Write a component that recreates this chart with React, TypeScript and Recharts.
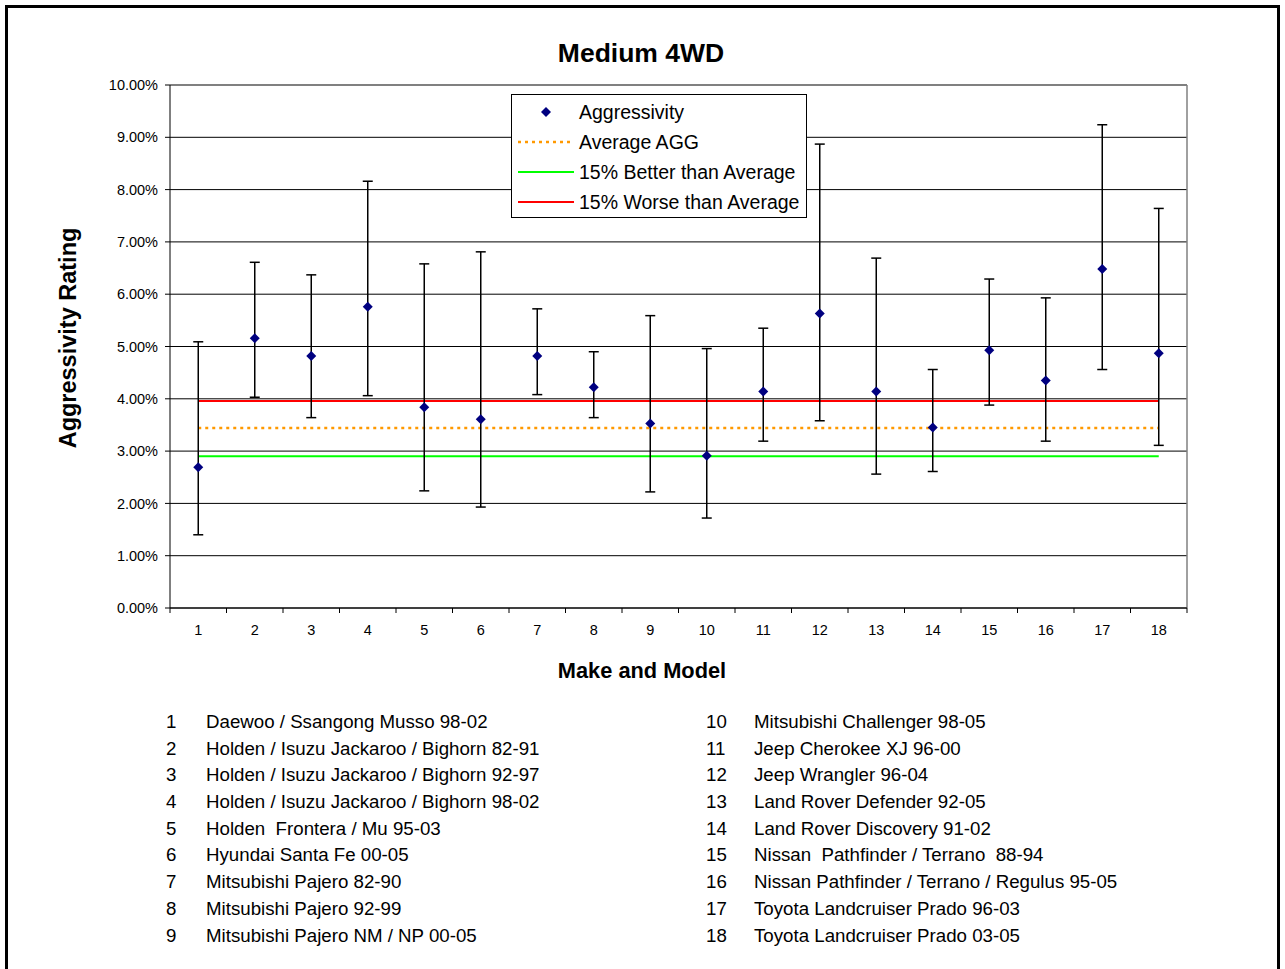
import React from "react";
import {
  ComposedChart,
  Scatter,
  Line,
  XAxis,
  YAxis,
  CartesianGrid,
  ErrorBar,
  ReferenceLine,
} from "recharts";

const modelNumbers = [1, 2, 3, 4, 5, 6, 7, 8, 9, 10, 11, 12, 13, 14, 15, 16, 17, 18];

const modelNames = [
  "Daewoo / Ssangong Musso 98-02",
  "Holden / Isuzu Jackaroo / Bighorn 82-91",
  "Holden / Isuzu Jackaroo / Bighorn 92-97",
  "Holden / Isuzu Jackaroo / Bighorn 98-02",
  "Holden  Frontera / Mu 95-03",
  "Hyundai Santa Fe 00-05",
  "Mitsubishi Pajero 82-90",
  "Mitsubishi Pajero 92-99",
  "Mitsubishi Pajero NM / NP 00-05",
  "Mitsubishi Challenger 98-05",
  "Jeep Cherokee XJ 96-00",
  "Jeep Wrangler 96-04",
  "Land Rover Defender 92-05",
  "Land Rover Discovery 91-02",
  "Nissan  Pathfinder / Terrano  88-94",
  "Nissan Pathfinder / Terrano / Regulus 95-05",
  "Toyota Landcruiser Prado 96-03",
  "Toyota Landcruiser Prado 03-05",
];

// aggressivity in percent, with the lower / upper limits of the error bars
const aggValues = [2.69, 5.16, 4.82, 5.76, 3.84, 3.61, 4.82, 4.22, 3.53, 2.91, 4.14, 5.63, 4.14, 3.45, 4.93, 4.35, 6.48, 4.87];
const upperValues = [5.09, 6.61, 6.37, 8.16, 6.58, 6.81, 5.72, 4.9, 5.59, 4.96, 5.35, 8.87, 6.69, 4.56, 6.29, 5.93, 9.24, 7.64];
const lowerValues = [1.4, 4.03, 3.64, 4.06, 2.24, 1.93, 4.08, 3.64, 2.22, 1.72, 3.19, 3.58, 2.56, 2.61, 3.88, 3.19, 4.56, 3.11];

const averageAgg = 3.44;
const betterThanAvg = 2.9;
const worseThanAvg = 3.96;

const yTicks = [0, 1, 2, 3, 4, 5, 6, 7, 8, 9, 10];

const FONT = '"Liberation Sans", Arial, sans-serif';

const data = modelNumbers.map((n, i) => ({
  x: n,
  agg: aggValues[i],
  err: [aggValues[i] - lowerValues[i], upperValues[i] - aggValues[i]],
  avg: averageAgg,
  better: betterThanAvg,
  worse: worseThanAvg,
}));

// labels sit on the categories, tick marks between them (Excel style)
const xTicks = modelNumbers.flatMap((n) => [n - 0.5, n]).concat(modelNumbers.length + 0.5);

function XTick(props: any) {
  const { x, y, payload } = props;
  const v = payload.value;
  if (Number.isInteger(v)) {
    return (
      <text x={x} y={y + 27} textAnchor="middle" fontSize={14.5} fill="#000" fontFamily={FONT}>
        {v}
      </text>
    );
  }
  return <line x1={x} y1={y} x2={x} y2={y + 5} stroke="#000" />;
}

function Diamond(props: any) {
  const { cx, cy } = props;
  if (cx == null || cy == null) return null;
  const r = 5;
  return (
    <polygon
      points={`${cx},${cy - r} ${cx + r},${cy} ${cx},${cy + r} ${cx - r},${cy}`}
      fill="#000080"
    />
  );
}

function LegendBox() {
  const row: React.CSSProperties = { display: "flex", alignItems: "center", height: 30 };
  const sym: React.CSSProperties = { width: 56, marginLeft: 6, marginRight: 5, display: "flex", justifyContent: "center" };
  return (
    <div
      style={{
        position: "absolute",
        left: 511,
        top: 94,
        width: 294,
        height: 120,
        border: "1px solid #000",
        background: "#fff",
        paddingTop: 2,
        boxSizing: "content-box",
        fontFamily: FONT,
        fontSize: 19.5,
        color: "#000",
      }}
    >
      <div style={row}>
        <div style={sym}>
          <svg width={10} height={10}>
            <polygon points="5,0 10,5 5,10 0,5" fill="#000080" />
          </svg>
        </div>
        <span>Aggressivity</span>
      </div>
      <div style={row}>
        <div style={sym}>
          <svg width={56} height={4}>
            <line x1={0} y1={2} x2={56} y2={2} stroke="#FF9900" strokeWidth={2.5} strokeDasharray="3 4" />
          </svg>
        </div>
        <span>Average AGG</span>
      </div>
      <div style={row}>
        <div style={sym}>
          <svg width={56} height={4}>
            <line x1={0} y1={2} x2={56} y2={2} stroke="#00FF00" strokeWidth={2} />
          </svg>
        </div>
        <span>15% Better than Average</span>
      </div>
      <div style={row}>
        <div style={sym}>
          <svg width={56} height={4}>
            <line x1={0} y1={2} x2={56} y2={2} stroke="#FF0000" strokeWidth={2} />
          </svg>
        </div>
        <span>15% Worse than Average</span>
      </div>
    </div>
  );
}

function ModelList() {
  const half = Math.ceil(modelNames.length / 2);
  const cols = [modelNames.slice(0, half), modelNames.slice(half)];
  const colPos = [
    { num: 166, name: 206 },
    { num: 706, name: 754 },
  ];
  return (
    <>
      {cols.map((names, c) => (
        <div
          key={c}
          style={{
            position: "absolute",
            left: colPos[c].num,
            top: 709,
            fontFamily: FONT,
            fontSize: 18.7,
            lineHeight: "26.7px",
            color: "#000",
            whiteSpace: "pre",
          }}
        >
          {names.map((name, i) => (
            <div key={name} style={{ position: "relative", height: 26.7 }}>
              <span>{modelNumbers[c * half + i]}</span>
              <span style={{ position: "absolute", left: colPos[c].name - colPos[c].num }}>{name}</span>
            </div>
          ))}
        </div>
      ))}
    </>
  );
}

export default function App() {
  return (
    <div
      style={{
        position: "absolute",
        left: 0,
        top: 0,
        width: 1285,
        height: 969,
        overflow: "hidden",
        background: "#fff",
        fontFamily: FONT,
      }}
    >
      <div
        style={{
          position: "absolute",
          left: 5,
          top: 5,
          width: 1269,
          height: 1000,
          border: "3px solid #000",
        }}
      />
      <div style={{ position: "absolute", left: 0, top: 0 }}>
        <ComposedChart
          width={1285}
          height={700}
          data={data}
          margin={{ top: 85, right: 98, left: 100, bottom: 62 }}
        >
          <CartesianGrid horizontal vertical={false} stroke="#000" strokeWidth={1} />
          <XAxis
            dataKey="x"
            type="number"
            domain={[0.5, 18.5]}
            ticks={xTicks}
            interval={0}
            tick={<XTick />}
            tickLine={false}
            tickSize={0}
            tickMargin={0}
            axisLine={{ stroke: "#000" }}
            height={30}
            allowDataOverflow
          />
          <YAxis
            type="number"
            domain={[0, 10]}
            ticks={yTicks}
            interval={0}
            tickFormatter={(v: number) => v.toFixed(2) + "%"}
            tick={{ fontSize: 14.5, fill: "#000", fontFamily: FONT }}
            tickLine={{ stroke: "#000" }}
            tickSize={5}
            tickMargin={7}
            axisLine={{ stroke: "#000" }}
            width={70}
          />
          <ReferenceLine y={10} stroke="#808080" strokeWidth={1.5} />
          <ReferenceLine x={18.5} stroke="#808080" strokeWidth={1.5} />
          <Line
            dataKey="avg"
            type="linear"
            stroke="#FF9900"
            strokeWidth={2.5}
            strokeDasharray="3 4"
            dot={false}
            isAnimationActive={false}
          />
          <Line
            dataKey="better"
            type="linear"
            stroke="#00FF00"
            strokeWidth={2}
            dot={false}
            isAnimationActive={false}
          />
          <Line
            dataKey="worse"
            type="linear"
            stroke="#FF0000"
            strokeWidth={2}
            dot={false}
            isAnimationActive={false}
          />
          <Scatter dataKey="agg" shape={<Diamond />} isAnimationActive={false}>
            <ErrorBar dataKey="err" direction="y" width={5} stroke="#000" strokeWidth={1.5} />
          </Scatter>
        </ComposedChart>
      </div>
      <svg
        width={1285}
        height={969}
        style={{ position: "absolute", left: 0, top: 0, pointerEvents: "none" }}
      >
        <text x={641} y={62} textAnchor="middle" fontSize={26.5} fontWeight="bold" fontFamily={FONT} fill="#000">
          Medium 4WD
        </text>
        <text
          x={76}
          y={338}
          textAnchor="middle"
          fontSize={23.5}
          fontWeight="bold"
          fontFamily={FONT}
          fill="#000"
          transform="rotate(-90 76 338)"
        >
          Aggressivity Rating
        </text>
        <text x={642} y={678} textAnchor="middle" fontSize={21.8} fontWeight="bold" fontFamily={FONT} fill="#000">
          Make and Model
        </text>
      </svg>
      <LegendBox />
      <ModelList />
    </div>
  );
}
